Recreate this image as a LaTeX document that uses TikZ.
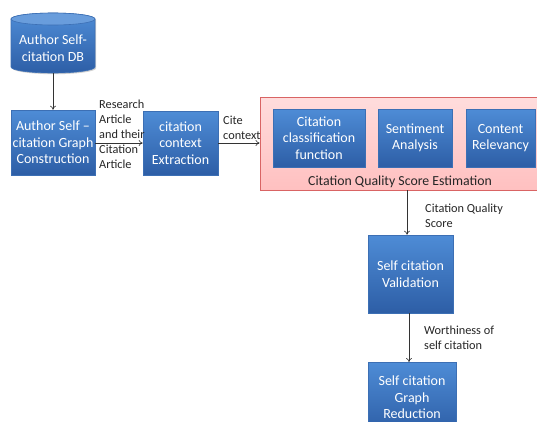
\documentclass[tikz,border=0pt]{standalone}
\usepackage{fontspec}
\setmainfont{Carlito}
\usetikzlibrary{arrows.meta,shadows}
\definecolor{btop}{HTML}{4E8CD6}
\definecolor{bbot}{HTML}{2D5EA6}
\definecolor{bline}{HTML}{3C6FB4}
\definecolor{rfill}{HTML}{FFC0C0}
\definecolor{rline}{HTML}{D96464}
\tikzset{
  bluebox/.style={rectangle, draw=bline, line width=0.6pt, top color=btop, bottom color=bbot,
    text=white, align=center, font=\fontsize{14}{16.5}\selectfont, inner sep=1pt,
    drop shadow={shadow xshift=1.2pt, shadow yshift=-1.2pt, opacity=0.35}},
  lbl/.style={font=\fontsize{12.3}{15}\selectfont, align=left, inner sep=0pt, text=black!85},
  arr/.style={draw=black!80, line width=0.6pt, -{To[length=4pt,width=6pt]}}
}
\begin{document}
\begin{tikzpicture}[x=1pt,y=-1pt]
\clip (0,0) rectangle (537,421);
\fill[white] (0,0) rectangle (537,421);
% database cylinder
\node[minimum width=84pt, minimum height=60pt, inner sep=0pt] (db) at (53,43) {};
\shade[top color=btop, bottom color=bbot, draw=bline, line width=0.6pt,
  drop shadow={shadow xshift=1.2pt, shadow yshift=-1.2pt, opacity=0.35}]
  (11,19) -- (11,67) arc[start angle=180, end angle=360, x radius=42, y radius=-6] -- (95,19)
  arc[start angle=0, end angle=180, x radius=42, y radius=-6] -- cycle;
\filldraw[fill=btop!85!white, draw=bline, line width=0.6pt] (53,19) ellipse[x radius=42, y radius=6];
\node[text=white, align=center, font=\fontsize{14}{17}\selectfont] (dbtext) at (53,48) {Author Self-\\citation DB};
% boxes
\node[bluebox, minimum width=84pt, minimum height=65pt] (graph) at (53,142.5) {Author Self --\\citation Graph\\Construction};
\node[bluebox, minimum width=75pt, minimum height=64pt] (ctx) at (180.5,143) {citation\\context\\Extraction};
\node[rectangle, draw=rline, line width=0.8pt, top color=rfill!55!white, bottom color=rfill,
  minimum width=285pt, minimum height=93pt, inner sep=0pt] (red) at (402.5,143.5) {};
\node[bluebox, minimum width=92pt, minimum height=58pt] (ccf) at (319,138) {Citation\\classification\\function};
\node[bluebox, minimum width=74pt, minimum height=58pt] (sa) at (415,138) {Sentiment\\Analysis};
\node[bluebox, minimum width=69pt, minimum height=58pt] (cr) at (500.5,138) {Content\\Relevancy};
\node[font=\fontsize{13.8}{15}\selectfont, text=black!85, inner sep=0pt] (title) at (400,182) {Citation Quality Score Estimation};
\node[bluebox, minimum width=85pt, minimum height=78pt] (val) at (410.5,274) {Self citation\\Validation};
\node[bluebox, minimum width=88pt, minimum height=70pt, anchor=north] (gred) at (412,362) {Self citation\\Graph\\Reduction};
% labels
\node[lbl, anchor=west] (l1) at (99,134.5) {Research\\Article\\and their\\Citation\\Article};
\node[lbl, anchor=west] (l2) at (223,128) {Cite\\context};
\node[lbl, anchor=west] (l3) at (425,216) {Citation Quality\\Score};
\node[lbl, anchor=west] (l4) at (424,338) {Worthiness of\\self citation};
% arrows
\draw[arr] (db.south) -- (graph.north);
\draw[arr] (graph.east |- ctx.west) -- (ctx.west);
\draw[arr] (ctx.east) -- (ctx.east -| red.west);
\draw[arr] ([xshift=-3.5pt]val.north |- red.south) -- ([xshift=-3.5pt]val.north);
\draw[arr] ([xshift=-1.5pt]val.south) -- ([xshift=-1.5pt]val.south |- gred.north);
\end{tikzpicture}
\end{document}
